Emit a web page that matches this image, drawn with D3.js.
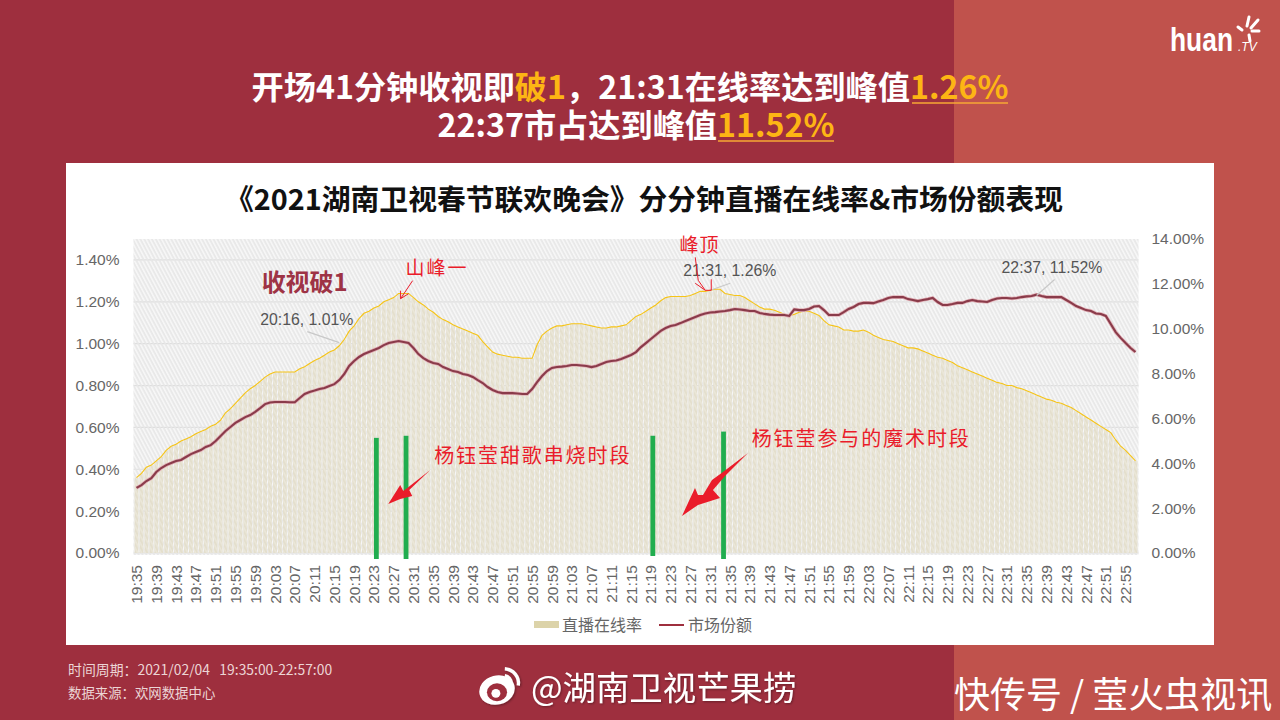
<!DOCTYPE html>
<html>
<head>
<meta charset="utf-8">
<script src="https://cdn.jsdelivr.net/npm/d3@7"></script>
<style>
	html, body { margin: 0; padding: 0; background: #9e2f3e; overflow: hidden; }
	text { font-family: "Liberation Sans", Arial, sans-serif; }
	.cjk { font-family: "Noto Sans CJK SC", sans-serif; }
</style>
</head>
<body>
<svg id="chart" width="1280" height="720"></svg>
<script>
// Live online rate, one value a minute from 19:35 to 22:57 (left axis, percent)
var rateValues = [
	0.36,0.38,0.41,0.42,0.44,0.46,0.49,0.51,0.52,0.535,0.545,0.555,0.57,0.58,0.59,0.605,0.615,0.635,0.67,0.69,
	0.715,0.74,0.765,0.785,0.80,0.82,0.84,0.855,0.865,0.865,0.865,0.865,0.865,0.88,0.89,0.905,0.92,0.93,0.945,0.96,
	0.97,0.99,1.02,1.06,1.085,1.12,1.145,1.155,1.17,1.18,1.20,1.21,1.22,1.24,1.24,1.24,1.22,1.20,1.185,1.165,
	1.15,1.13,1.115,1.105,1.09,1.08,1.07,1.06,1.05,1.04,1.01,0.985,0.96,0.95,0.945,0.94,0.935,0.935,0.93,0.93,
	0.93,0.995,1.04,1.06,1.075,1.085,1.085,1.09,1.095,1.095,1.095,1.09,1.085,1.08,1.075,1.075,1.08,1.08,1.085,1.09,
	1.11,1.13,1.14,1.155,1.17,1.185,1.205,1.22,1.225,1.225,1.225,1.225,1.23,1.24,1.25,1.25,1.255,1.26,1.26,1.24,
	1.235,1.23,1.23,1.22,1.205,1.19,1.175,1.165,1.165,1.16,1.15,1.14,1.135,1.14,1.15,1.155,1.155,1.145,1.135,1.11,
	1.09,1.085,1.08,1.065,1.065,1.06,1.06,1.065,1.055,1.04,1.03,1.02,1.015,1.01,1.00,0.99,0.98,0.98,0.975,0.965,
	0.955,0.945,0.935,0.93,0.92,0.91,0.895,0.885,0.875,0.865,0.855,0.845,0.835,0.825,0.815,0.81,0.80,0.80,0.79,0.785,
	0.775,0.765,0.755,0.745,0.735,0.73,0.72,0.715,0.705,0.695,0.68,0.665,0.65,0.635,0.62,0.605,0.59,0.575,0.54,0.51,
	0.49,0.465,0.44
];

// Market share, same minutes (right axis, percent)
var shareValues = [
	2.90,3.03,3.21,3.34,3.61,3.79,3.92,4.01,4.10,4.15,4.28,4.41,4.50,4.59,4.73,4.81,4.99,5.22,5.44,5.62,
	5.80,5.93,6.06,6.15,6.29,6.46,6.64,6.71,6.73,6.73,6.73,6.72,6.72,6.91,7.09,7.18,7.24,7.31,7.36,7.45,
	7.53,7.71,7.98,8.34,8.56,8.74,8.87,8.96,9.05,9.14,9.27,9.36,9.41,9.45,9.41,9.36,9.14,8.87,8.69,8.56,
	8.47,8.43,8.29,8.20,8.11,8.07,7.98,7.94,7.85,7.71,7.58,7.40,7.27,7.18,7.13,7.13,7.13,7.11,7.09,7.09,
	7.31,7.62,7.89,8.11,8.25,8.29,8.31,8.34,8.38,8.38,8.36,8.34,8.29,8.34,8.43,8.52,8.56,8.58,8.65,8.74,
	8.83,8.96,9.18,9.36,9.54,9.72,9.90,10.03,10.12,10.17,10.25,10.34,10.43,10.52,10.61,10.68,10.72,10.74,10.77,10.79,
	10.83,10.88,10.86,10.83,10.79,10.79,10.70,10.66,10.63,10.61,10.61,10.61,10.57,10.86,10.83,10.83,10.88,10.99,11.01,10.83,
	10.61,10.61,10.61,10.74,10.88,10.97,11.10,11.15,11.15,11.14,11.21,11.28,11.37,11.41,11.41,11.41,11.32,11.28,11.23,11.28,
	11.32,11.37,11.19,11.06,11.06,11.10,11.15,11.15,11.23,11.28,11.23,11.21,11.19,11.28,11.35,11.37,11.37,11.35,11.37,11.41,
	11.44,11.46,11.52,11.46,11.41,11.41,11.41,11.41,11.28,11.15,11.01,10.92,10.83,10.79,10.68,10.66,10.57,10.21,9.85,9.59,
	9.36,9.14,8.96
];

// Minute labels, every minute is a category and every fourth gets a tick
var minutes = rateValues.map(function(d, i) {
	var m = 19 * 60 + 35 + i;
	return d3.format('02')(Math.floor(m / 60)) + ':' + d3.format('02')(m % 60);
});
var tickLabels = minutes.filter(function(d, i) { return i % 4 == 0; });

var rateTicks = [0, 0.2, 0.4, 0.6, 0.8, 1.0, 1.2, 1.4];
var shareTicks = [0, 2, 4, 6, 8, 10, 12, 14];

// Callouts: minute index, rate axis height of the point, text
var callouts = [
	{i: 41, value: 1.01, label: '20:16, 1.01%'},
	{i: 116, value: 1.26, label: '21:31, 1.26%'},
	{i: 182, value: 1.235, label: '22:37, 11.52%'}
];
// label dx, label dy, leader dx, leader dy
var calloutShift = [[-79, -17, -32, -10], [-27, -13, 20, -6], [-35, -21, 18, -15]];

// Hand drawn green bars: minute position and top of the bar on the rate axis
var greenMinutes = [48.5, 54.5, 104.4, 118.7];
var greenTops = [0.55, 0.56, 0.56, 0.58];

var margin = {top: 239, right: 141.5, bottom: 167, left: 133.5};
var width = 1280 - margin.left - margin.right;
var height = 720 - margin.top - margin.bottom;

var svg = d3.select('#chart');

// Slide background
svg.append('rect').attr('width', 954).attr('height', 720).attr('fill', '#9e2f3e');
svg.append('rect').attr('x', 954).attr('width', 326).attr('height', 720).attr('fill', '#c0524c');
svg.append('rect').attr('x', 66).attr('y', 163).attr('width', 1148).attr('height', 482).attr('fill', '#ffffff');

// Diagonal hatch of the plot area
var defs = svg.append('defs');
var hatch = defs.append('pattern').attr('id', 'hatch')
	.attr('patternUnits', 'userSpaceOnUse')
	.attr('width', 3.4).attr('height', 3.4)
	.attr('patternTransform', 'rotate(62)');
hatch.append('rect').attr('width', 3.4).attr('height', 3.4).attr('fill', '#f6f6f6');
hatch.append('rect').attr('width', 3.4).attr('height', 1.5).attr('fill', '#e0e0e0');

var hatchTop = defs.append('pattern').attr('id', 'hatchTop')
	.attr('patternUnits', 'userSpaceOnUse')
	.attr('width', 3.4).attr('height', 3.4)
	.attr('patternTransform', 'rotate(62)');
hatchTop.append('rect').attr('width', 3.4).attr('height', 1.5).attr('fill', '#ffffff').attr('opacity', 0.25);

var blur = defs.append('filter').attr('id', 'soft');
blur.append('feGaussianBlur').attr('stdDeviation', 0.5);

var shadow = defs.append('filter').attr('id', 'shadow')
	.attr('x', '-10%').attr('y', '-20%').attr('width', '120%').attr('height', '150%');
shadow.append('feDropShadow').attr('dx', 1).attr('dy', 1).attr('stdDeviation', 1)
	.attr('flood-color', '#000').attr('flood-opacity', 0.35);

// Headline
var head = svg.append('text').attr('class', 'cjk')
	.attr('text-anchor', 'middle').attr('font-size', 32.2).attr('font-weight', 700).attr('fill', '#ffffff');
var line1 = head.append('tspan').attr('x', 630).attr('y', 99);
line1.append('tspan').text('开场41分钟收视即');
line1.append('tspan').attr('fill', '#fdb514').text('破1');
line1.append('tspan').text('，21:31在线率达到峰值');
line1.append('tspan').attr('fill', '#fdb514').text('1.26%');
var line2 = head.append('tspan').attr('x', 636).attr('y', 137);
line2.append('tspan').text('22:37市占达到峰值');
line2.append('tspan').attr('fill', '#fdb514').text('11.52%');

// Thin underlines under the two peak values
svg.append('line').attr('x1', 912).attr('x2', 1008).attr('y1', 103).attr('y2', 103)
	.attr('stroke', '#f7a935').attr('stroke-width', 1.6);
svg.append('line').attr('x1', 718).attr('x2', 834).attr('y1', 141).attr('y2', 141)
	.attr('stroke', '#f7a935').attr('stroke-width', 1.6);

// Chart title
svg.append('text').attr('class', 'cjk')
	.attr('x', 644).attr('y', 210)
	.attr('text-anchor', 'middle').attr('font-size', 28.8).attr('font-weight', 700).attr('fill', '#111111')
	.text('《2021湖南卫视春节联欢晚会》分分钟直播在线率&市场份额表现');

// Scales
var x = d3.scaleBand().domain(minutes).range([0, width]).padding(0.22);
var xMinute = d3.scaleLinear().domain([0, minutes.length - 1])
	.range([x(minutes[0]) + x.bandwidth() / 2, x(minutes[minutes.length - 1]) + x.bandwidth() / 2]);
var yRate = d3.scaleLinear().domain([0, 1.5]).range([height, 0]);
var yShare = d3.scaleLinear().domain([0, 14]).range([height, 0]);

var g = svg.append('g').attr('transform', 'translate(' + margin.left + ',' + margin.top + ')');

g.append('rect').attr('width', width).attr('height', height + 2).attr('fill', 'url(#hatch)');

// Gridlines
g.selectAll('.grid').data(rateTicks).enter().append('line')
	.attr('class', 'grid')
	.attr('x1', 0).attr('x2', width)
	.attr('y1', function(d) { return yRate(d); })
	.attr('y2', function(d) { return yRate(d); })
	.attr('stroke', '#dedede').attr('stroke-width', 1.2);

// Bars
g.selectAll('.bar').data(rateValues).enter().append('rect')
	.attr('class', 'bar')
	.attr('x', function(d, i) { return x(minutes[i]); })
	.attr('width', x.bandwidth())
	.attr('y', function(d) { return yRate(d); })
	.attr('height', function(d) { return height - yRate(d); })
	.attr('fill', '#e4dfcd');
g.append('rect').attr('width', width).attr('height', height + 2).attr('fill', 'url(#hatchTop)');

// Online rate outline
var rateLine = d3.line()
	.x(function(d, i) { return xMinute(i); })
	.y(function(d) { return yRate(d); });
g.append('path').datum(rateValues).attr('d', rateLine)
	.attr('fill', 'none').attr('stroke', '#f6c417').attr('stroke-width', 1.1);

// Market share line with its pale halo
var shareLine = d3.line()
	.x(function(d, i) { return xMinute(i); })
	.y(function(d) { return yShare(d); });
g.append('path').datum(shareValues).attr('d', shareLine)
	.attr('fill', 'none').attr('stroke', '#e2b2b8').attr('stroke-width', 3.6).attr('filter', 'url(#soft)');
g.append('path').datum(shareValues).attr('d', shareLine)
	.attr('fill', 'none').attr('stroke', '#8a3b4a').attr('stroke-width', 2.1);

// Axes
var axisColor = '#666666';
var left = g.append('g')
	.call(d3.axisLeft(yRate).tickValues(rateTicks).tickSize(0).tickPadding(14)
		.tickFormat(function(d) { return d.toFixed(2) + '%'; }));
var right = g.append('g').attr('transform', 'translate(' + width + ',0)')
	.call(d3.axisRight(yShare).tickValues(shareTicks).tickSize(0).tickPadding(13)
		.tickFormat(function(d) { return d.toFixed(2) + '%'; }));
var bottom = g.append('g').attr('transform', 'translate(0,' + height + ')')
	.call(d3.axisBottom(x).tickValues(tickLabels).tickSize(0));
bottom.selectAll('text')
	.attr('transform', 'rotate(-90)')
	.attr('x', -12).attr('y', 0).attr('dy', '0.36em')
	.style('text-anchor', 'end');
[left, right, bottom].forEach(function(a) {
	a.select('.domain').remove();
	a.selectAll('text').attr('fill', axisColor).attr('font-size', 15.5)
		.attr('font-family', '"Liberation Sans", Arial, sans-serif');
});

// Value callouts
var calloutText = g.selectAll('.callout').data(callouts).enter().append('g').attr('class', 'callout');
calloutText.append('line')
	.attr('x1', function(d) { return xMinute(d.i); })
	.attr('y1', function(d) { return yRate(d.value) + 1; })
	.attr('x2', function(d, i) { return xMinute(d.i) + calloutShift[i][2]; })
	.attr('y2', function(d, i) { return yRate(d.value) + calloutShift[i][3]; })
	.attr('stroke', '#c8c8c8').attr('stroke-width', 1.2);
calloutText.append('text')
	.attr('x', function(d, i) { return xMinute(d.i) + calloutShift[i][0]; })
	.attr('y', function(d, i) { return yRate(d.value) + calloutShift[i][1]; })
	.attr('font-size', 15.8).attr('fill', '#555555')
	.text(function(d) { return d.label; });

// "broke 1" note
g.append('text').attr('class', 'cjk')
	.attr('x', xMinute(25.3)).attr('y', yRate(1.25))
	.attr('font-size', 24).attr('font-weight', 700).attr('fill', '#9e3345')
	.text('收视破1');

// Hand drawn annotations on top of the chart
var red = '#ea1c2a';
g.selectAll('.green').data(greenMinutes).enter().append('line')
	.attr('class', 'green')
	.attr('x1', function(d) { return xMinute(d); })
	.attr('x2', function(d) { return xMinute(d); })
	.attr('y1', function(d, i) { return yRate(greenTops[i]); })
	.attr('y2', function(d, i) { return height + (i == 2 ? 3 : 6); })
	.attr('stroke', '#21ad4f').attr('stroke-width', 4.8);

function redText(minute, rate, label, size, spacing) {
	g.append('text').attr('class', 'cjk')
		.attr('x', xMinute(minute)).attr('y', yRate(rate))
		.attr('font-size', size).attr('letter-spacing', spacing).attr('fill', red)
		.text(label);
}
redText(54.4, 1.33, '山峰一', 19, 2);
redText(109.8, 1.44, '峰顶', 19, 1);
redText(60.2, 0.43, '杨钰莹甜歌串烧时段', 20, 1.9);
redText(124.4, 0.51, '杨钰莹参与的魔术时段', 20, 1.9);

// Arrow outline relative to its tip
function redArrow(minute, rate, points) {
	var tipX = xMinute(minute), tipY = yRate(rate);
	g.append('path')
		.attr('d', d3.line()(points.map(function(p) { return [tipX + p[0], tipY + p[1]]; })) + 'Z')
		.attr('fill', red);
}
redArrow(50.9, 0.234, [[0,0],[12,-19],[15,-13],[19,-16],[42,-34],[21,-14],[24,-8],[12,-5]]);
redArrow(110.3, 0.177, [[0,0],[13,-28],[16,-21],[21,-21],[30,-36],[41,-44],[66,-63],[43,-40],[31,-26],[38,-18],[16,-11]]);

// Thin red pointers
function redStroke(minute, rate, points) {
	var tipX = xMinute(minute), tipY = yRate(rate);
	g.append('path')
		.attr('d', d3.line()(points.map(function(p) { return [tipX + p[0], tipY + p[1]]; })))
		.attr('fill', 'none').attr('stroke', red).attr('stroke-width', 1);
}
redStroke(53.4, 1.215, [[12,-18],[0,0]]);
redStroke(53.4, 1.215, [[0,-8],[0,0],[8,-5]]);
redStroke(115, 1.255, [[-10,-33],[-7,-10],[0,0]]);
redStroke(115, 1.255, [[-10,-7],[0,0],[6,0],[6,-11]]);

// Legend
var legendY = 625;
svg.append('rect').attr('x', 534).attr('y', legendY - 4).attr('width', 25).attr('height', 7).attr('fill', '#dcd3a9');
svg.append('text').attr('class', 'cjk').attr('x', 562).attr('y', legendY + 6)
	.attr('font-size', 16).attr('fill', '#666666').text('直播在线率');
svg.append('line').attr('x1', 659).attr('x2', 684).attr('y1', legendY).attr('y2', legendY)
	.attr('stroke', '#9e2f3e').attr('stroke-width', 2);
svg.append('text').attr('class', 'cjk').attr('x', 688).attr('y', legendY + 6)
	.attr('font-size', 16).attr('fill', '#666666').text('市场份额');

// Footer
svg.append('text').attr('class', 'cjk').attr('x', 68).attr('y', 675)
	.attr('font-size', 13.9).attr('fill', '#ecd5d5').attr('xml:space', 'preserve')
	.text('时间周期：2021/02/04   19:35:00-22:57:00');
svg.append('text').attr('class', 'cjk').attr('x', 68).attr('y', 698)
	.attr('font-size', 13.4).attr('fill', '#ecd5d5')
	.text('数据来源：欢网数据中心');

// Weibo mark and handle
var weibo = svg.append('g').attr('transform', 'translate(497,690) scale(1.12)').attr('filter', 'url(#shadow)');
weibo.append('ellipse').attr('rx', 16).attr('ry', 13).attr('transform', 'rotate(-15)').attr('fill', '#ffffff');
weibo.append('ellipse').attr('cx', 0).attr('cy', 2).attr('rx', 9).attr('ry', 8).attr('fill', '#9e2f3e');
weibo.append('circle').attr('cx', -1).attr('cy', 3).attr('r', 4).attr('fill', '#ffffff');
weibo.append('path').attr('d', 'M7,-19 A13,13 0 0 1 19,-4').attr('fill', 'none').attr('stroke', '#ffffff').attr('stroke-width', 3);
weibo.append('path').attr('d', 'M7,-13 A7,7 0 0 1 13,-6').attr('fill', 'none').attr('stroke', '#ffffff').attr('stroke-width', 2.5);
svg.append('text').attr('class', 'cjk').attr('x', 531).attr('y', 700)
	.attr('font-size', 33.4).attr('fill', '#ffffff').attr('filter', 'url(#shadow)')
	.text('@湖南卫视芒果捞');

svg.append('text').attr('class', 'cjk').attr('x', 954).attr('y', 708)
	.attr('font-size', 36).attr('fill', '#ffffff')
	.text('快传号 / 莹火虫视讯');

// huan.tv logo
svg.append('text').attr('x', 1170).attr('y', 51)
	.attr('font-size', 34).attr('font-weight', 700).attr('fill', '#ffffff')
	.attr('textLength', 63).attr('lengthAdjust', 'spacingAndGlyphs')
	.text('huan');
svg.append('text').attr('x', 1238).attr('y', 51)
	.attr('font-size', 12).attr('font-style', 'italic').attr('fill', '#ffffff')
	.text('.TV');
var petals = [[1249, 17, 1247, 26], [1258, 20, 1251, 28], [1259, 31, 1252, 31], [1250, 41, 1249, 35], [1238, 27, 1242, 30]];
svg.selectAll('.petal').data(petals).enter().append('line')
	.attr('class', 'petal')
	.attr('x1', function(d) { return d[0]; }).attr('y1', function(d) { return d[1]; })
	.attr('x2', function(d) { return d[2]; }).attr('y2', function(d) { return d[3]; })
	.attr('stroke', '#ffffff').attr('stroke-width', 3).attr('stroke-linecap', 'round');
</script>
</body>
</html>
